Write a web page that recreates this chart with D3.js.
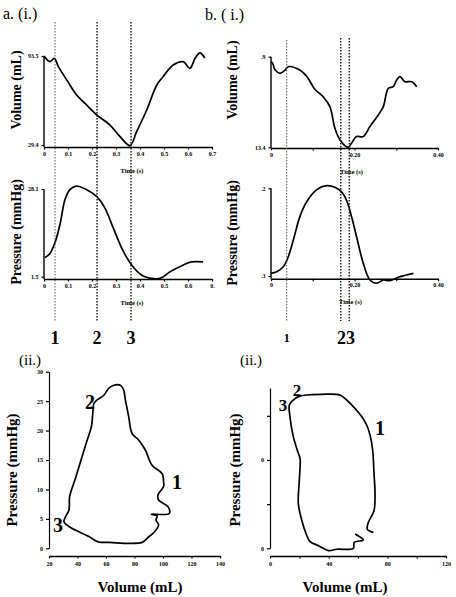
<!DOCTYPE html>
<html><head><meta charset="utf-8">
<script src="https://cdn.jsdelivr.net/npm/d3@7/dist/d3.min.js"></script>
<style>
html,body{margin:0;padding:0;background:#fff;}
text{font-family:"Liberation Serif","DejaVu Serif",serif;fill:#000;}
</style></head>
<body><svg id="c" width="456" height="597"></svg>
<script>
// ---------- DATA ----------
// Panel a(i): volume vs time
const timeAVol = [0,0.025,0.043,0.06,0.095,0.136,0.178,0.22,0.275,0.317,0.358,0.386,0.428,0.47,0.496,0.538,0.58,0.608,0.63,0.65,0.67];
const volA     = [93.5,89.4,91.8,85.8,76.2,65.4,58.2,51,43.8,35.4,29,39,54.6,72.6,78.6,87,89.4,84.6,92,95.7,92];
// Panel a(i): pressure vs time
const timeAPres = [0.004,0.025,0.046,0.067,0.0875,0.108,0.133,0.178,0.22,0.254,0.288,0.329,0.371,0.413,0.483,0.525,0.579,0.615,0.663];
const presA     = [7.3,8.55,11.9,17.5,24.9,27.9,29,27.9,25.8,22.3,16.4,9.4,4.5,1.7,1.0,3.0,5.0,6.0,6.0];
// Panel b(i): volume vs time
const timeBVol = [0,0.004,0.010,0.022,0.034,0.041,0.069,0.086,0.105,0.125,0.141,0.153,0.165,0.185,0.193,0.205,0.221,0.237,0.257,0.269,0.281,0.293,0.301,0.309,0.321,0.337,0.349];
const volB     = [70.5,69.5,65.0,62.8,65.0,67.2,65.0,60.6,52.2,47.2,40.6,26.2,18.4,13.3,16.2,20.6,20.6,27.3,35.0,40.6,52.8,53.9,58.4,60.6,57.2,57.2,53.9];
// Panel b(i): pressure vs time
const timeBPres = [0,0.0137,0.0295,0.0414,0.0534,0.069,0.0855,0.109,0.133,0.153,0.169,0.181,0.193,0.205,0.221,0.237,0.253,0.269,0.285,0.309,0.341];
const presB     = [0.82,1.13,2.09,4.02,7.2,11.7,14.6,16.9,17.7,17.4,16.5,14.9,11.7,7.85,2.75,-0.47,-1.1,-0.47,-0.6,0.17,0.82];
// Panel a(ii): pressure-volume loop
const loopAVol  = [100.4,99.3,92.3,87.6,82.9,78.3,75.9,73.6,72.4,70.1,65.5,62.0,58.5,53.8,51.5,50.8,49.8,46.8,42.1,38.6,34.5,34.0,31.7,30.5,34.0,41.0,48.0,54.5,62.0,85.3,88.8,94.1,96.9,95.1,95.8,91.8,104.4,103.4,96.9,96.5,100.4,100.4];
const loopAPres = [11.3,12.7,14.1,16.7,18.4,19.5,22.4,25.2,26.9,27.7,27.7,27.2,26.0,25.2,24.6,23.2,20.7,18.4,14.7,11.9,8.8,6.5,5.4,4.5,3.7,2.8,2.0,1.1,1.0,1.0,1.7,2.8,4.0,4.8,5.5,5.8,5.9,7.1,8.2,9.1,10.5,11.3];
// Panel b(ii): pressure-volume loop
const loopBVol  = [70.5,66.4,67.0,70.9,71.6,70.9,70.0,68.2,65.9,62.5,56.8,52.3,47.7,35.2,25.0,19.3,15.9,13.2,13.6,15.9,19.3,20.5,20.0,19.3,21.6,24.5,27.3,33.0,39.8,45.5,56.8,57.5,63.6,58.0];
const loopBPres = [1.81,2.15,2.91,4.26,6.23,8.49,11.13,12.83,13.96,14.91,16.04,16.79,17.36,17.43,17.36,17.17,16.79,16.23,14.91,12.64,10.75,10.19,7.74,5.09,3.21,1.70,0.75,0.30,-0.26,-0.11,0,0.68,0.94,1.62];
// Event markers
const markerTimesA  = [0.046,0.221,0.3625];
const markerLabelsA = ["1","2","3"];
const markerTimesB  = [0.0376,0.167,0.1875];
// Tick values / labels
const ticksAx = [0,0.1,0.2,0.3,0.4,0.5,0.6,0.7];
const ticksAxLabVol  = ["0","0.1","0.2","0.3","0.4","0.5","0.6","0.7"];
const ticksAxLabPres = ["0","0.1","0.2","0.3","0.4","0.5","0.6","0."];
const ticksBx = [0,0.1,0.2,0.3,0.4];
const ticksBxLab = ["0","","0.20","","0.40"];
const ticksAVol = [29.4,93.5], ticksAVolLab = ["29.4","93.5"];
const ticksAPres = [1.5,28.1], ticksAPresLab = ["1.5","28.1"];
const ticksBVol = [13.4,73.9], ticksBVolLab = ["13.4",".9"];
const ticksBPres = [0.3,17.2], ticksBPresLab = [".3",".2"];
const loopAxTicks = [20,40,60,80,100,120,140];
const loopAyTicks = [0,5,10,15,20,25,30];
const loopBxTicks = [0,20,40,60,80,100,120];
const loopBxLab = ["0","","40","","80","","120"];
const loopByTicks = [0,5,10,15];
const loopByLab = ["0","","0",""];

// ---------- DRAW ----------
const svg = d3.select("#c");
svg.append("rect").attr("width",456).attr("height",597).attr("fill","#fff");

function txt(x,y,s,size,opt={}){
  const t = svg.append("text").attr("x",x).attr("y",y).text(s)
    .attr("font-size",size).attr("font-weight",opt.bold?"bold":"normal")
    .attr("text-anchor",opt.anchor||"start").attr("dominant-baseline","central");
  if(opt.rotate) t.attr("transform",`rotate(-90,${x},${y})`);
  return t;
}

function timePanel(o){
  const x = d3.scaleLinear().domain(o.xDom).range(o.xRange);
  const y = d3.scaleLinear().domain(o.yDom).range(o.yRange);
  const g = svg.append("g");
  // x axis
  const ax = g.append("g").attr("transform",`translate(0,${o.axisY})`)
    .call(d3.axisBottom(x).tickValues(o.xTicks).tickFormat((d,i)=>o.xLab[i]).tickSize(2.5).tickSizeOuter(0));
  ax.select(".domain").attr("stroke","#000").attr("stroke-width",1.4);
  ax.selectAll(".tick line").attr("stroke","#000").attr("stroke-width",1.2);
  ax.selectAll(".tick text").attr("font-size",6).attr("font-weight","bold").attr("dy","0.5em").attr("font-family","Liberation Serif");
  // y axis
  const ay = g.append("g").attr("transform",`translate(${o.xRange[0]},0)`)
    .call(d3.axisLeft(y).tickValues(o.yTicks).tickFormat((d,i)=>o.yLab[i]).tickSize(2.5));
  ay.select(".domain").remove();
  ay.selectAll(".tick line").attr("stroke","#000").attr("stroke-width",1.2);
  ay.selectAll(".tick text").attr("font-size",6).attr("font-weight","bold").attr("font-family","Liberation Serif");
  g.append("line").attr("x1",o.xRange[0]).attr("x2",o.xRange[0])
    .attr("y1",y(o.yTicks[o.yTicks.length-1])).attr("y2",o.axisY)
    .attr("stroke","#000").attr("stroke-width",1.4);
  // curve
  const line = d3.line().x(d=>x(d[0])).y(d=>y(d[1])).curve(d3.curveCatmullRom.alpha(0.5));
  g.append("path").datum(d3.zip(o.t,o.v)).attr("d",line)
    .attr("fill","none").attr("stroke","#000").attr("stroke-width",1.7);
  // axis title
  txt((o.xRange[0]+o.xRange[1])/2 + o.tOff, o.axisY+23, "Time (s)", 6.5, {bold:true, anchor:"middle"});
  return x;
}

const xA = timePanel({xDom:[0,0.7], xRange:[44,212], yDom:[29.4,93.5], yRange:[145,56], axisY:147,
  xTicks:ticksAx, xLab:ticksAxLabVol, yTicks:ticksAVol, yLab:ticksAVolLab, t:timeAVol, v:volA, tOff:4});
timePanel({xDom:[0,0.7], xRange:[44,212], yDom:[1.5,28.1], yRange:[276.7,189], axisY:279,
  xTicks:ticksAx, xLab:ticksAxLabPres, yTicks:ticksAPres, yLab:ticksAPresLab, t:timeAPres, v:presA, tOff:4});
const xB = timePanel({xDom:[0,0.4], xRange:[271,438], yDom:[13.4,73.9], yRange:[147.3,56.7], axisY:148,
  xTicks:ticksBx, xLab:ticksBxLab, yTicks:ticksBVol, yLab:ticksBVolLab, t:timeBVol, v:volB, tOff:-3});
timePanel({xDom:[0,0.4], xRange:[271,438], yDom:[0.3,17.2], yRange:[276,188.3], axisY:278.7,
  xTicks:ticksBx, xLab:ticksBxLab, yTicks:ticksBPres, yLab:ticksBPresLab, t:timeBPres, v:presB, tOff:-4});

// Dashed event lines
markerTimesA.forEach((t,i)=>{
  svg.append("line").attr("x1",xA(t)).attr("x2",xA(t)).attr("y1",22).attr("y2",321)
    .attr("stroke", i===0?"#555":"#222").attr("stroke-width", i===0?1:1.5).attr("stroke-dasharray","1.5,1.5");
  txt(xA(t), 338, markerLabelsA[i], 18, {bold:true, anchor:"middle"});
});
markerTimesB.forEach((t,i)=>{
  svg.append("line").attr("x1",xB(t)).attr("x2",xB(t)).attr("y1", i===0?40:38).attr("y2",321)
    .attr("stroke", i===0?"#555":"#222").attr("stroke-width", i===0?1:1.5).attr("stroke-dasharray","1.5,1.5");
});
txt(xB(markerTimesB[0]), 338, "1", 12, {bold:true, anchor:"middle"});
txt((xB(markerTimesB[1])+xB(markerTimesB[2]))/2 + 1, 338, "23", 18, {bold:true, anchor:"middle"});

// Panel titles & y-axis labels for (i)
txt(3, 13, "a. (i.)", 16);
txt(205, 14, "b. ( i.)", 16);
txt(16, 90, "Volume (mL)", 14, {bold:true, anchor:"middle", rotate:true});
txt(16, 232, "Pressure (mmHg)", 14, {bold:true, anchor:"middle", rotate:true});
txt(232, 80, "Volume (mL)", 14, {bold:true, anchor:"middle", rotate:true});
txt(232, 233, "Pressure (mmHg)", 14, {bold:true, anchor:"middle", rotate:true});
txt(19, 360, "(ii.)", 15);
txt(240, 360, "(ii.)", 15);

// Loop panels
function loopPanel(o){
  const x = d3.scaleLinear().domain(o.xDom).range(o.xRange);
  const y = d3.scaleLinear().domain(o.yDom).range(o.yRange);
  const g = svg.append("g");
  const ax = g.append("g").attr("transform",`translate(0,${o.axisY})`)
    .call(d3.axisBottom(x).tickValues(o.xTicks).tickFormat((d,i)=>o.xLab[i]).tickSize(2.5).tickSizeOuter(0));
  ax.select(".domain").attr("stroke","#000").attr("stroke-width",1.4);
  ax.selectAll(".tick line").attr("stroke","#000").attr("stroke-width",1.2);
  ax.selectAll(".tick text").attr("font-size",6).attr("font-weight","bold").attr("dy","0.7em").attr("font-family","Liberation Serif");
  const ay = g.append("g").attr("transform",`translate(${o.yAxisX},0)`)
    .call(d3.axisLeft(y).tickValues(o.yTicks).tickFormat((d,i)=>o.yLab[i]).tickSize(3).tickSizeOuter(0));
  ay.select(".domain").attr("stroke","#000").attr("stroke-width",1.2);
  ay.selectAll(".tick line").attr("stroke","#000").attr("stroke-width",1.2);
  ay.selectAll(".tick text").attr("font-size",6).attr("font-weight","bold").attr("font-family","Liberation Serif");
  const line = d3.line().x(d=>x(d[0])).y(d=>y(d[1])).curve(d3.curveCatmullRom.alpha(0.5));
  g.append("path").datum(d3.zip(o.v,o.p)).attr("d",line)
    .attr("fill","none").attr("stroke","#000").attr("stroke-width",1.7);
  return {x,y};
}
const LA = loopPanel({xDom:[20,140], xRange:[49,220], yDom:[0,30], yRange:[548.3,371.7], axisY:556, yAxisX:49,
  xTicks:loopAxTicks, xLab:loopAxTicks.map(String), yTicks:loopAyTicks, yLab:loopAyTicks.map(String), v:loopAVol, p:loopAPres});
const LB = loopPanel({xDom:[0,120], xRange:[270,446], yDom:[0,18.15], yRange:[548.3,388], axisY:556, yAxisX:270,
  xTicks:loopBxTicks, xLab:loopBxLab, yTicks:loopByTicks, yLab:loopByLab, v:loopBVol, p:loopBPres});

txt(177, 482, "1", 20, {bold:true, anchor:"middle"});
txt(90, 402, "2", 20, {bold:true, anchor:"middle"});
txt(58, 525, "3", 20, {bold:true, anchor:"middle"});
txt(380, 428, "1", 20, {bold:true, anchor:"middle"});
txt(297, 390, "2", 17, {bold:true, anchor:"middle"});
txt(283, 405, "3", 17, {bold:true, anchor:"middle"});

txt(12, 470, "Pressure (mmHg)", 15, {bold:true, anchor:"middle", rotate:true});
txt(235, 470, "Pressure (mmHg)", 15, {bold:true, anchor:"middle", rotate:true});
txt(140, 587, "Volume (mL)", 15, {bold:true, anchor:"middle"});
txt(345, 587, "Volume (mL)", 15, {bold:true, anchor:"middle"});
</script></body></html>
